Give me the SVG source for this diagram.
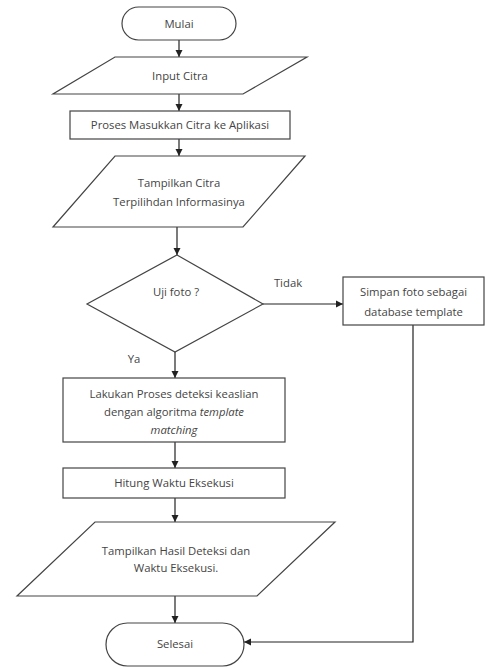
<svg xmlns="http://www.w3.org/2000/svg" width="490" height="668" viewBox="0 0 490 668">
<defs>
<marker id="arr" markerWidth="8" markerHeight="8" refX="7" refY="4" orient="auto" markerUnits="userSpaceOnUse">
<path d="M0,0.5 L7,4 L0,7.5 Z" fill="#222"/>
</marker>
<style>
.s{fill:#fff;stroke:#444;stroke-width:1.2}
.t{font-family:"Open Sans","Liberation Sans",sans-serif;font-size:11.3px;fill:#444;text-anchor:middle}
.l{fill:none;stroke:#222;stroke-width:1.2}
</style>
</defs>
<rect width="490" height="668" fill="#fff"/>
<g id="connectors">
<line class="l" x1="179" y1="40" x2="179" y2="57" marker-end="url(#arr)"/>
<line class="l" x1="179" y1="94" x2="179" y2="111" marker-end="url(#arr)"/>
<line class="l" x1="179" y1="139" x2="179" y2="156" marker-end="url(#arr)"/>
<line class="l" x1="177" y1="227" x2="177" y2="255" marker-end="url(#arr)"/>
<line class="l" x1="263" y1="304" x2="343" y2="304" marker-end="url(#arr)"/>
<line class="l" x1="175" y1="352" x2="175" y2="378" marker-end="url(#arr)"/>
<line class="l" x1="175" y1="442" x2="175" y2="468" marker-end="url(#arr)"/>
<line class="l" x1="175" y1="498" x2="175" y2="522" marker-end="url(#arr)"/>
<line class="l" x1="175" y1="596" x2="175" y2="623" marker-end="url(#arr)"/>
<polyline class="l" points="413,325 413,642 244,642" marker-end="url(#arr)"/>
<text class="t" x="288" y="287">Tidak</text>
<text class="t" x="134" y="363">Ya</text>
</g>
<g id="mulai">
<rect class="s" x="122" y="7" width="114" height="33" rx="16.5"/>
<text class="t" x="179" y="28">Mulai</text>
</g>
<g id="input-citra">
<polygon class="s" points="115,57 307,57 243,94 53,94"/>
<text class="t" x="180" y="80">Input Citra</text>
</g>
<g id="proses">
<rect class="s" x="70" y="111" width="220" height="28"/>
<text class="t" x="180" y="129">Proses Masukkan Citra ke Aplikasi</text>
</g>
<g id="tampilkan-citra">
<polygon class="s" points="115,156 305,156 243,227 53,227"/>
<text class="t" x="179" y="187">Tampilkan Citra</text>
<text class="t" x="179" y="206">Terpilihdan Informasinya</text>
</g>
<g id="uji-foto">
<polygon class="s" points="177,255 263,304 175,352 87,304"/>
<text class="t" x="176" y="296">Uji foto ?</text>
</g>
<g id="simpan">
<rect class="s" x="343" y="277" width="141" height="48"/>
<text class="t" x="413.5" y="296">Simpan foto sebagai</text>
<text class="t" x="413.5" y="316">database template</text>
</g>
<g id="lakukan">
<rect class="s" x="63" y="378" width="222" height="64"/>
<text class="t" x="174" y="398">Lakukan Proses deteksi keaslian</text>
<text class="t" x="174" y="416">dengan algoritma <tspan font-style="italic">template</tspan></text>
<text class="t" x="174" y="434" font-style="italic">matching</text>
</g>
<g id="hitung">
<rect class="s" x="63" y="468" width="222" height="30"/>
<text class="t" x="174" y="487">Hitung Waktu Eksekusi</text>
</g>
<g id="tampilkan-hasil">
<polygon class="s" points="95,522 335,522 257,596 17,596"/>
<text class="t" x="176" y="555">Tampilkan Hasil Deteksi dan</text>
<text class="t" x="176" y="572">Waktu Eksekusi.</text>
</g>
<g id="selesai">
<rect class="s" x="106" y="623" width="138" height="43" rx="21.5"/>
<text class="t" x="175" y="648">Selesai</text>
</g>
</svg>
